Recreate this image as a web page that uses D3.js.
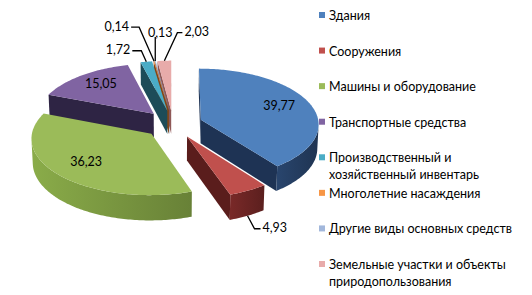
<!DOCTYPE html>
<html><head><meta charset="utf-8">
<script src="https://cdn.jsdelivr.net/npm/d3@7"></script>
<style>
body{margin:0;background:#fff}
svg{display:block}
text{font-family:Lato,"Open Sans",sans-serif;fill:#000}
</style>
</head><body>
<svg id="chart" width="532" height="295"></svg>
<script>
// ---------- data ----------
const categories = [
  "Здания",
  "Сооружения",
  "Машины и оборудование",
  "Транспортные средства",
  "Производственный и хозяйственный инвентарь",
  "Многолетние насаждения",
  "Другие виды основных средств",
  "Земельные участки и объекты природопользования"
];
const values = [39.77, 4.93, 36.23, 15.05, 1.72, 0.14, 0.13, 2.03];

// ---------- style ----------
const topColors    = ["#4F81BD","#C0504D","#9BBB59","#8064A2","#4BACC6","#F79646","#A2B7DB","#E8ABAA"];
const wallColors   = ["#243D60","#6B2423","#7A9840","#34294B","#226072","#A0561B","#5F7398","#A86B6A"];
const radialColors = ["#1E3354","#5A1D1C","#566B2B","#2E2444","#1D4C58","#854515","#4F6283","#8F5857"];

const W = 532, H = 295;
const svg = d3.select("#chart");
svg.append("rect").attr("width",W).attr("height",H).attr("fill","#fff");

// ---------- 3D projection ----------
const theta = 28*Math.PI/180, ct = Math.cos(theta), st = Math.sin(theta);
const Dcam = 12, F = 118*Dcam, cx = 173, cy = 124;
const depth = 0.23, explode = 0.25;
function P(X,Y,Z){
  const yv = Y*ct + Z*st, zv = Z*ct - Y*st, s = F/(Dcam+zv);
  return [cx + X*s, cy - yv*s];
}
const line = d3.line();
const poly = pts => line(pts) + "Z";

const pie = d3.pie().sort(null).value(d=>d).startAngle(0).endAngle(2*Math.PI);
const arcs = pie(values).map((a,i)=>{
  const m = (a.startAngle+a.endAngle)/2;
  return {i, a0:a.startAngle, a1:a.endAngle, m, ox:explode*Math.sin(m), oz:explode*Math.cos(m), v:a.value};
});
const color = d3.scaleOrdinal().domain(d3.range(values.length)).range(topColors);

function rim(s, phi, Y){ return P(s.ox+Math.sin(phi), Y, s.oz+Math.cos(phi)); }
function samples(a0,a1){
  const n = Math.max(2, Math.ceil((a1-a0)/(Math.PI/180)));
  return d3.range(n+1).map(k=>a0+(a1-a0)*k/n);
}

const defs = svg.append("defs");
const gPie = svg.append("g");

// painter order: far first
const order = arcs.slice().sort((p,q)=>{
  const zp = p.oz + 0.6*Math.cos(p.m), zq = q.oz + 0.6*Math.cos(q.m);
  return zq - zp;
});

order.forEach(s=>{
  const g = gPie.append("g");
  const base = d3.color(wallColors[s.i]);
  // radial walls
  const vis0 = s.ox*Math.cos(s.a0) - (Dcam*ct + s.oz)*Math.sin(s.a0);
  const vis1 = -s.ox*Math.cos(s.a1) + (Dcam*ct + s.oz)*Math.sin(s.a1);
  [[s.a0,vis0],[s.a1,vis1]].forEach(([a,v])=>{
    if (v <= 0) return;
    const A  = P(s.ox,0,s.oz), Ab = P(s.ox,-depth,s.oz);
    const R  = rim(s,a,0), Rb = rim(s,a,-depth);
    g.append("path").attr("d",poly([A,R,Rb,Ab])).attr("fill",radialColors[s.i]);
  });
  // outer wall (visible runs)
  const ph = samples(s.a0,s.a1);
  const visible = phi => (-s.ox*Math.sin(phi) - s.oz*Math.cos(phi) - 1 - Dcam*ct*Math.cos(phi)) > 0;
  let runs = [], cur = [];
  ph.forEach(p=>{ if (visible(p)) cur.push(p); else { if (cur.length>1) runs.push(cur); cur=[]; } });
  if (cur.length>1) runs.push(cur);
  runs.forEach((r,ri)=>{
    const topPts = r.map(p=>rim(s,p,0));
    const botPts = r.map(p=>rim(s,p,-depth)).reverse();
    const xs = topPts.map(p=>p[0]);
    const gid = `wg${s.i}_${ri}`;
    const grad = defs.append("linearGradient").attr("id",gid)
      .attr("gradientUnits","userSpaceOnUse")
      .attr("x1",d3.min(xs)).attr("x2",d3.max(xs)).attr("y1",0).attr("y2",0);
    grad.append("stop").attr("offset",0).attr("stop-color",base.brighter(0.35));
    grad.append("stop").attr("offset",1).attr("stop-color",base.darker(0.45));
    g.append("path").attr("d",poly(topPts.concat(botPts))).attr("fill",`url(#${gid})`);
  });
  // top face
  const topFace = [P(s.ox,0,s.oz)].concat(ph.map(p=>rim(s,p,0)));
  g.append("path").attr("d",poly(topFace)).attr("fill",color(s.i));
});

// ---------- data labels ----------
const fmt = v => d3.format(".2f")(v).replace(".",",");
const gLab = svg.append("g").attr("font-size","12.5px");
const outside = {
  1:{y:-depth, elbow:[7,13],  run:6,  anchor:"start"},
  4:{y:0,      elbow:[-5,-11],run:-9, anchor:"end"},
  5:{y:0,      elbow:[-15,-34],run:-8,anchor:"end"},
  6:{y:0,      elbow:[0,-24], run:0,  anchor:"middle", tx:5, ty:-5},
  7:{y:0,      elbow:[13,-28],run:5,  anchor:"start"}
};
arcs.forEach(s=>{
  const o = outside[s.i];
  if (!o){
    const r = 0.72;
    const p = P(s.ox + r*Math.sin(s.m), 0, s.oz + r*Math.cos(s.m));
    gLab.append("text").attr("x",p[0]).attr("y",p[1]-2).attr("text-anchor","middle")
      .attr("dominant-baseline","central").text(fmt(s.v));
  } else {
    const a = rim(s, s.m, o.y);
    const e = [a[0]+o.elbow[0], a[1]+o.elbow[1]];
    const t = [e[0]+o.run, e[1]];
    gLab.append("path").attr("d", line([a,e,t])).attr("fill","none")
      .attr("stroke","#000").attr("stroke-width",1.3);
    let tx, ty = t[1] + (o.ty||-1);
    if (o.anchor==="middle") tx = t[0] + (o.tx||0);
    else tx = t[0] + (o.anchor==="start" ? 2 : -2);
    gLab.append("text").attr("x",tx).attr("y",ty).attr("text-anchor",o.anchor)
      .attr("dominant-baseline","central").text(fmt(s.v));
  }
});

// ---------- legend ----------
const legY = d3.scaleLinear().domain([0, categories.length-1]).range([15, 264]);
const gLeg = svg.append("g").attr("font-size","12.5px");
const maxW = 190;
categories.forEach((c,i)=>{
  const y = legY(i);
  gLeg.append("rect").attr("x",319).attr("y",y-3).attr("width",6).attr("height",6).attr("fill",color(i));
  const t = gLeg.append("text").attr("x",329).attr("y",y).attr("dominant-baseline","central");
  const words = c.split(" ");
  let lineWords = [];
  let ts = t.append("tspan").attr("x",329).attr("dy",0);
  words.forEach(w=>{
    lineWords.push(w);
    ts.text(lineWords.join(" "));
    if (ts.node().getComputedTextLength() > maxW && lineWords.length>1){
      lineWords.pop(); ts.text(lineWords.join(" "));
      lineWords = [w];
      ts = t.append("tspan").attr("x",329).attr("dy","16.5px").text(w);
    }
  });
});
</script>
</body></html>
